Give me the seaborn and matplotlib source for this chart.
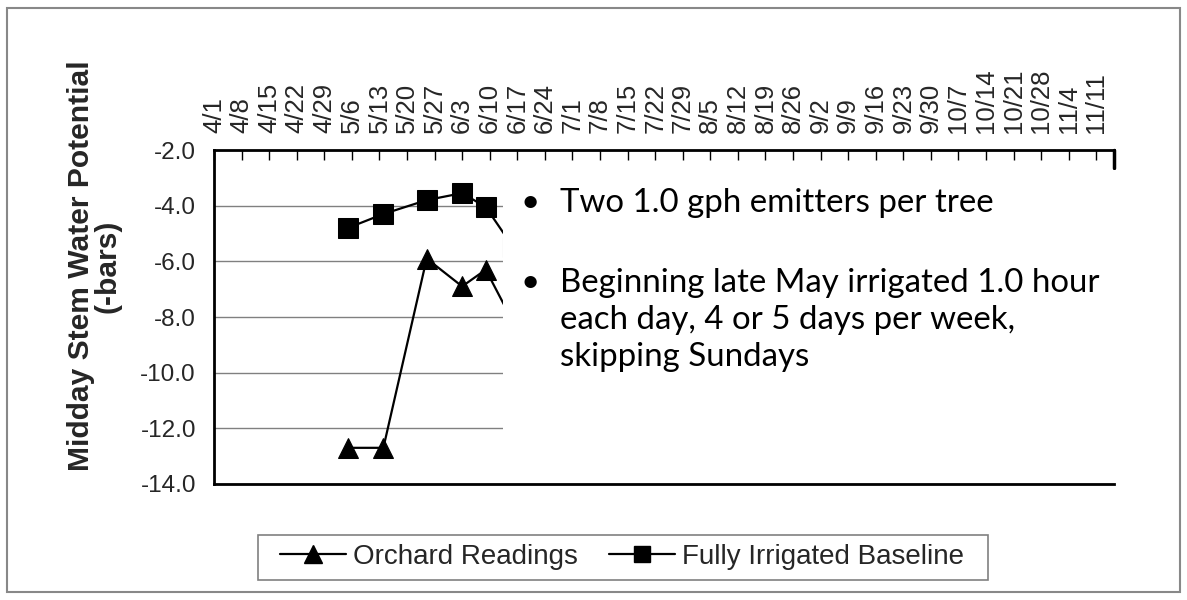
import pandas as pd
import numpy as np
import seaborn as sb
import matplotlib
matplotlib.use("Agg")
import matplotlib.pyplot as plt
from matplotlib.patches import Rectangle
from matplotlib.lines import Line2D

# weekly axis labels
week_labels = ["4/1", "4/8", "4/15", "4/22", "4/29", "5/6", "5/13", "5/20", "5/27",
               "6/3", "6/10", "6/17", "6/24", "7/1", "7/8", "7/15", "7/22", "7/29",
               "8/5", "8/12", "8/19", "8/26", "9/2", "9/9", "9/16", "9/23", "9/30",
               "10/7", "10/14", "10/21", "10/28", "11/4", "11/11"]
# reading dates (last one sits behind the note box)
sample_dates = ["5/5", "5/14", "5/25", "6/3", "6/9", "6/16"]
orchard = [-12.7, -12.7, -5.9, -6.9, -6.3, -8.2]
baseline = [-4.8, -4.3, -3.8, -3.55, -4.05, -5.5]
series_names = ["Orchard Readings", "Fully Irrigated Baseline"]
y_ticks = [-14, -12, -10, -8, -6, -4, -2]

bullet1 = "Two 1.0 gph emitters per tree"
bullet2 = ["Beginning late May irrigated 1.0 hour",
           "each day, 4 or 5 days per week,",
           "skipping Sundays"]

start = pd.Timestamp("2008-04-01")
days = [(pd.to_datetime("2008/" + d, format="%Y/%m/%d") - start).days for d in sample_dates]
df = pd.DataFrame({"day": days * 2,
                   "swp": orchard + baseline,
                   "series": [series_names[0]] * len(days) + [series_names[1]] * len(days)})

sb.set_style("white")
plt.rcParams["font.family"] = ["Liberation Sans", "DejaVu Sans"]

W, H = 1187, 600
fig = plt.figure(figsize=(W / 100, H / 100), dpi=100)
ax = fig.add_axes([214 / W, 1 - 484 / H, (1114 - 214) / W, (484 - 150) / H])

sb.lineplot(data=df, x="day", y="swp", hue="series", style="series",
            palette=["black", "black"], markers=["^", "s"], dashes=False,
            markersize=14, linewidth=1.6, markeredgecolor="black",
            sort=False, legend=False, ax=ax)

ax.set_xlabel("")
ax.set_ylabel("")
ax.set_xlim(0, 228.5)
ax.set_ylim(-14, -2)
ax.set_xticks(np.arange(len(week_labels)) * 7)
ax.set_xticklabels(week_labels, rotation=90)
ax.xaxis.tick_top()
ax.tick_params(axis="x", direction="in", length=7, width=1, color="black",
               pad=12, labelsize=18.5)
ax.set_yticks(y_ticks)
ax.set_yticklabels([f"{v:.1f}" for v in y_ticks])
ax.tick_params(axis="y", direction="out", length=7, width=1, color="black",
               pad=6, labelsize=17.5)
ax.yaxis.grid(True, color="#808080", lw=1)
ax.xaxis.grid(False)
ax.set_axisbelow(True)
for s in ["top", "left", "bottom"]:
    ax.spines[s].set_color("black")
    ax.spines[s].set_linewidth(2)
ax.spines["right"].set_visible(False)
ax.plot([1, 1], [1, 1 - 18 / 334], transform=ax.transAxes, color="black",
        lw=2.5, clip_on=False)

# y label
fig.text(94 / W, 1 - 266 / H, "Midday Stem Water Potential\n(-bars)", rotation=90,
         ha="center", va="center", multialignment="center", fontsize=21.6,
         fontweight="bold", linespacing=0.95)

# note box covering the right side of the plot
fig.add_artist(Rectangle((503 / W, 1 - 476 / H), (1135 - 503) / W, (476 - 170) / H,
                         transform=fig.transFigure, facecolor="white",
                         edgecolor="none", zorder=5))
note_font = dict(family=["Lato", "DejaVu Sans"], fontsize=23.8, color="black", zorder=6)
fig.text(530 / W, 1 - 203 / H, "\u2022", ha="center", va="center", **note_font)
fig.text(560 / W, 1 - 203 / H, bullet1, ha="left", va="center", **note_font)
fig.text(530 / W, 1 - 283 / H, "\u2022", ha="center", va="center", **note_font)
for i, line in enumerate(bullet2):
    fig.text(560 / W, 1 - (283 + 37 * i) / H, line, ha="left", va="center", **note_font)

# legend (frame drawn separately so it can be wider than its content)
handles = [Line2D([], [], color="black", lw=1.6, marker="^", markersize=13),
           Line2D([], [], color="black", lw=1.6, marker="s", markersize=12)]
leg = fig.legend(handles, series_names, loc="center", ncol=2,
                 bbox_to_anchor=(622 / W, 1 - 557 / H), fontsize=20,
                 frameon=False, handlelength=2.4, handletextpad=0.25,
                 columnspacing=1.1, borderpad=0.3)
fig.add_artist(Rectangle((258 / W, 1 - 580 / H), (988 - 258) / W, (580 - 535) / H,
                         transform=fig.transFigure, fill=False,
                         edgecolor="#808080", lw=1.2))

# outer border
fig.add_artist(Rectangle((7 / W, 8 / H), (1180 - 7) / W, (592 - 8) / H,
                         transform=fig.transFigure, fill=False,
                         edgecolor="#888888", lw=1.5))

fig.savefig("out.png", dpi=100)
